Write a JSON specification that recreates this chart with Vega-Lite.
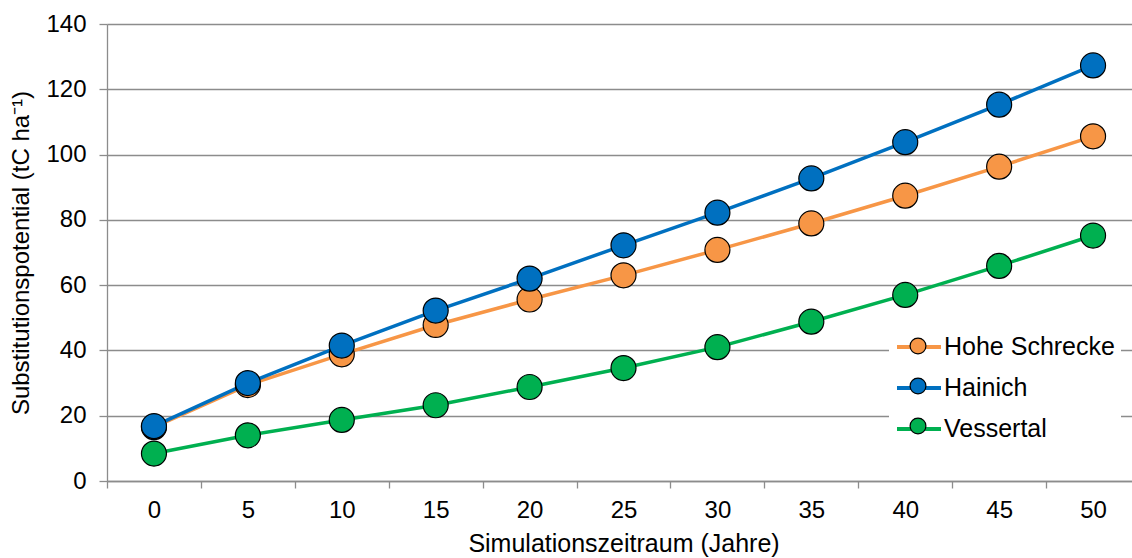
{
  "$schema": "https://vega.github.io/schema/vega-lite/v6.json",
  "autosize": "none",
  "width": 1025,
  "height": 457,
  "padding": {"left": 107, "top": 24, "right": 0, "bottom": 77},
  "background": "white",
  "config": {
    "font": "Liberation Sans",
    "view": {"stroke": null},
    "axis": {"labelFont": "Liberation Sans", "titleFont": "Liberation Sans", "labelColor": "black", "titleColor": "black", "titleFontWeight": "normal", "domainColor": "#8c8c8c", "tickColor": "#8c8c8c", "gridColor": "#8c8c8c", "domainWidth": 1.3, "tickWidth": 1.3, "gridWidth": 1.3},
    "legend": {"labelFont": "Liberation Sans", "labelColor": "black"}
  },
  "data": {
    "values": [
      {"series": "Hohe Schrecke", "year": 0, "value": 16.5},
      {"series": "Hohe Schrecke", "year": 5, "value": 29.4},
      {"series": "Hohe Schrecke", "year": 10, "value": 38.8},
      {"series": "Hohe Schrecke", "year": 15, "value": 47.8},
      {"series": "Hohe Schrecke", "year": 20, "value": 55.6},
      {"series": "Hohe Schrecke", "year": 25, "value": 63.0},
      {"series": "Hohe Schrecke", "year": 30, "value": 70.8},
      {"series": "Hohe Schrecke", "year": 35, "value": 78.9},
      {"series": "Hohe Schrecke", "year": 40, "value": 87.4},
      {"series": "Hohe Schrecke", "year": 45, "value": 96.3},
      {"series": "Hohe Schrecke", "year": 50, "value": 105.6},
      {"series": "Hainich", "year": 0, "value": 16.8},
      {"series": "Hainich", "year": 5, "value": 30.0},
      {"series": "Hainich", "year": 10, "value": 41.5},
      {"series": "Hainich", "year": 15, "value": 52.2},
      {"series": "Hainich", "year": 20, "value": 62.0},
      {"series": "Hainich", "year": 25, "value": 72.2},
      {"series": "Hainich", "year": 30, "value": 82.2},
      {"series": "Hainich", "year": 35, "value": 92.7},
      {"series": "Hainich", "year": 40, "value": 103.8},
      {"series": "Hainich", "year": 45, "value": 115.3},
      {"series": "Hainich", "year": 50, "value": 127.3},
      {"series": "Vessertal", "year": 0, "value": 8.4},
      {"series": "Vessertal", "year": 5, "value": 14.0},
      {"series": "Vessertal", "year": 10, "value": 18.7},
      {"series": "Vessertal", "year": 15, "value": 23.2},
      {"series": "Vessertal", "year": 20, "value": 28.8},
      {"series": "Vessertal", "year": 25, "value": 34.6},
      {"series": "Vessertal", "year": 30, "value": 41.0},
      {"series": "Vessertal", "year": 35, "value": 48.8},
      {"series": "Vessertal", "year": 40, "value": 57.0},
      {"series": "Vessertal", "year": 45, "value": 65.9},
      {"series": "Vessertal", "year": 50, "value": 75.2}
    ]
  },
  "encoding": {
    "x": {
      "field": "year", "type": "quantitative",
      "scale": {"domain": [-2.5, 52.5], "range": [0, 1033], "nice": false, "zero": false},
      "axis": {
        "title": "Simulationszeitraum (Jahre)",
        "titleFontSize": 25, "titlePadding": 9,
        "values": [-2.5, 0, 2.5, 5, 7.5, 10, 12.5, 15, 17.5, 20, 22.5, 25, 27.5, 30, 32.5, 35, 37.5, 40, 42.5, 45, 47.5, 50, 52.5],
        "labelExpr": "datum.value % 5 === 0 ? format(datum.value, 'd') : ''",
        "labelFontSize": 24, "labelPadding": 10, "labelOverlap": false, "labelFlush": false, "labelBound": false,
        "tickSize": 7,
        "tickOpacity": {"condition": {"test": "datum.value % 5 === 0", "value": 0}, "value": 1},
        "grid": false
      }
    },
    "y": {
      "field": "value", "type": "quantitative",
      "scale": {"domain": [0, 140], "nice": false},
      "axis": {
        "title": "Substitutionspotential (tC ha⁻¹)",
        "titleFontSize": 24, "titlePadding": 12,
        "values": [0, 20, 40, 60, 80, 100, 120, 140],
        "labelFontSize": 24, "labelPadding": 13, "tickSize": 8,
        "grid": true
      }
    }
  },
  "layer": [
    {
      "mark": {"type": "line", "strokeWidth": 3.5},
      "encoding": {
        "stroke": {
          "field": "series", "type": "nominal",
          "scale": {"domain": ["Hohe Schrecke", "Hainich", "Vessertal"], "range": ["#F79646", "#0070C0", "#00B050"]},
          "legend": {
            "orient": "none", "legendX": 782, "legendY": 293, "title": null,
            "values": ["Hohe Schrecke", "Hainich", "Vessertal"],
            "symbolType": "stroke", "symbolSize": 1936, "symbolStrokeWidth": 4,
            "labelFontSize": 25, "labelOffset": 1, "rowPadding": 4, "labelLimit": 400,
            "fillColor": "white", "padding": 6, "zindex": 1
          }
        }
      }
    },
    {
      "mark": {"type": "circle", "size": 625, "opacity": 1, "stroke": "black", "strokeWidth": 1.2},
      "encoding": {
        "fill": {
          "field": "series", "type": "nominal",
          "scale": {"domain": ["Hainich", "Hohe Schrecke", "Vessertal"], "range": ["#0070C0", "#F79646", "#00B050"]},
          "legend": {
            "orient": "none", "legendX": 782, "legendY": 293, "title": null,
            "values": ["Hohe Schrecke", "Hainich", "Vessertal"],
            "symbolType": "M-0.36,0A0.36,0.36,0,1,1,0.36,0A0.36,0.36,0,1,1,-0.36,0Z",
            "symbolSize": 1936, "symbolStrokeColor": "black", "symbolStrokeWidth": 1.2, "symbolOpacity": 1,
            "labelFontSize": 25, "labelOffset": 1, "rowPadding": 4, "labelExpr": "' '",
            "padding": 6, "zindex": 2
          }
        }
      }
    }
  ]
}
